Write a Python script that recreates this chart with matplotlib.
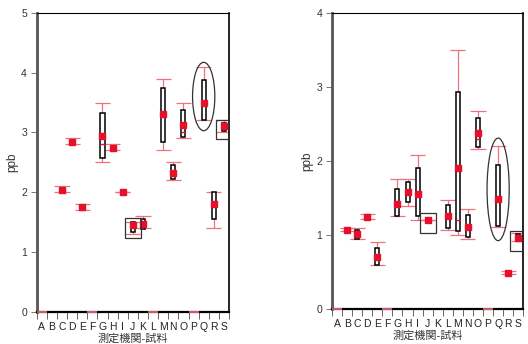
import numpy as np
import matplotlib
matplotlib.use("Agg")
import matplotlib.pyplot as plt
from matplotlib.patches import Rectangle, Ellipse

plt.rcParams['font.family'] = ['Liberation Sans', 'Noto Sans CJK JP', 'DejaVu Sans']

nan = np.nan
categories = list("ABCDEFGHIJKLMNOPQRS")

# left panel (ppb, 0-5)
left_mean = [nan, nan, 2.04, 2.84, 1.76, nan, 2.94, 2.74, 2.00, 1.45,
             1.47, nan, 3.30, 2.33, 3.13, nan, 3.50, 1.80, 3.10]
left_box_lo = [nan, nan, nan, nan, nan, nan, 2.57, nan, nan, 1.34,
               1.39, nan, 2.84, 2.22, 2.92, nan, 3.20, 1.55, 3.02]
left_box_hi = [nan, nan, nan, nan, nan, nan, 3.33, nan, nan, 1.51,
               1.55, nan, 3.75, 2.45, 3.38, nan, 3.87, 2.00, 3.16]
left_median = [nan, nan, nan, nan, nan, nan, 2.80, nan, nan, nan,
               nan, nan, nan, nan, 3.00, nan, nan, nan, nan]
left_whisk_lo = [0, nan, 2.00, 2.80, 1.70, 0, 2.50, 2.70, 2.00, 1.30,
                 1.40, 0, 2.70, 2.20, 2.90, 0, 3.20, 1.40, 3.00]
left_whisk_hi = [0, nan, 2.10, 2.90, 1.80, 0, 3.50, 2.80, 2.00, 1.50,
                 1.60, 0, 3.90, 2.50, 3.50, 0, 4.10, 2.00, 3.20]
left_squares = ["J", "S"]
left_ellipses = ["Q"]

# right panel (ppb, 0-4)
right_mean = [nan, 1.07, 1.01, 1.24, 0.70, nan, 1.42, 1.58, 1.55, 1.20,
              nan, 1.25, 1.90, 1.11, 2.38, nan, 1.49, 0.49, 0.96]
right_box_lo = [nan, nan, 0.95, nan, 0.60, nan, 1.25, 1.45, 1.25, nan,
                nan, 1.10, 1.05, 0.97, 2.19, nan, 1.12, nan, 0.92]
right_box_hi = [nan, nan, 1.07, nan, 0.82, nan, 1.62, 1.71, 1.90, nan,
                nan, 1.41, 2.93, 1.27, 2.58, nan, 1.95, nan, 1.01]
right_median = [nan, nan, nan, nan, nan, nan, nan, nan, nan, nan,
                nan, nan, 1.20, nan, 2.29, nan, nan, nan, nan]
right_whisk_lo = [0, 1.05, 0.94, 1.21, 0.60, 0, 1.25, 1.39, 1.20, 1.20,
                  nan, 1.07, 1.00, 0.94, 2.16, 0, 1.11, 0.47, 0.92]
right_whisk_hi = [0, 1.09, 1.10, 1.28, 0.90, 0, 1.75, 1.75, 2.08, 1.20,
                  nan, 1.47, 3.50, 1.35, 2.67, 0, 2.20, 0.51, 1.03]
right_squares = ["J", "S"]
right_ellipses = ["Q"]

RED = "#e6102b"
PINK = "#f07080"


def draw_panel(ax, mean, box_lo, box_hi, median, w_lo, w_hi, ymax, squares, ellipses):
    x = np.arange(len(categories)) + 0.5
    mean = np.array(mean)
    for i in range(len(categories)):
        if np.isnan(w_lo[i]):
            continue
        if w_hi[i] == 0:
            # zero result: only a short red line on the axis
            ax.hlines(0, x[i] - 0.5, x[i] + 0.5, color=PINK, lw=1.2, zorder=4, clip_on=False)
            continue
        ax.vlines(x[i], w_lo[i], w_hi[i], color=PINK, lw=0.9, zorder=1)
        ax.hlines([w_lo[i], w_hi[i]], x[i] - 0.75, x[i] + 0.75, color=PINK, lw=0.9, zorder=1)
        if not np.isnan(box_lo[i]):
            ax.add_patch(Rectangle((x[i] - 0.2, box_lo[i]), 0.4, box_hi[i] - box_lo[i],
                                   facecolor="white", edgecolor="black", lw=1.1, zorder=2))
        if not np.isnan(median[i]):
            ax.hlines(median[i], x[i] - 0.2, x[i] + 0.2, color=RED, lw=1.0, zorder=3)
    ax.plot(x, mean, "s", color=RED, ms=4.2, zorder=5)

    # highlight marks
    sq_h = 0.066 * ymax
    for c in squares:
        i = categories.index(c)
        ax.add_patch(Rectangle((x[i] - 0.78, mean[i] - sq_h / 2 - 0.01 * ymax), 1.56, sq_h,
                               facecolor="none", edgecolor="#333333", lw=0.9, zorder=6))
    for c in ellipses:
        i = categories.index(c)
        mid = (w_lo[i] + w_hi[i]) / 2 - 0.01 * ymax
        rng = w_hi[i] - w_lo[i]
        ax.add_patch(Ellipse((x[i], mid), 2.2, rng * 1.27,
                             facecolor="none", edgecolor="#333333", lw=0.9, zorder=6))

    ax.set_xlim(0, len(categories))
    ax.set_ylim(0, ymax)
    ax.set_xticks(np.arange(len(categories) + 1))
    ax.set_xticklabels([])
    ax.set_xticks(x, minor=True)
    ax.set_xticklabels(categories, minor=True, fontsize=7.5)
    ax.tick_params(axis="x", which="major", length=5, width=0.7, color="#666666", direction="out")
    ax.tick_params(axis="x", which="minor", length=0, pad=7, colors="#222222")
    ax.set_yticks(np.arange(0, ymax + 1))
    ax.tick_params(axis="y", length=4, width=0.7, color="#777777", labelsize=7.5,
                   labelcolor="#333333", pad=3)
    ax.spines["left"].set_linewidth(2.0)
    ax.spines["left"].set_color("#555555")
    ax.spines["bottom"].set_linewidth(1.6)
    ax.spines["top"].set_linewidth(0.8)
    ax.spines["right"].set_linewidth(1.2)
    ax.set_ylabel("ppb", fontsize=8.5, color="#333333", labelpad=2)
    ax.set_xlabel("測定機関-試料", fontsize=8, color="#333333", labelpad=1)


fig = plt.figure(figsize=(5.28, 3.44), dpi=100)
ax1 = fig.add_axes([0.0695, 0.093, 0.3642, 0.870])
ax2 = fig.add_axes([0.6288, 0.1017, 0.3623, 0.8613])

draw_panel(ax1, left_mean, left_box_lo, left_box_hi, left_median,
           left_whisk_lo, left_whisk_hi, 5, left_squares, left_ellipses)
draw_panel(ax2, right_mean, right_box_lo, right_box_hi, right_median,
           right_whisk_lo, right_whisk_hi, 4, right_squares, right_ellipses)

fig.savefig("out.png", dpi=100)
